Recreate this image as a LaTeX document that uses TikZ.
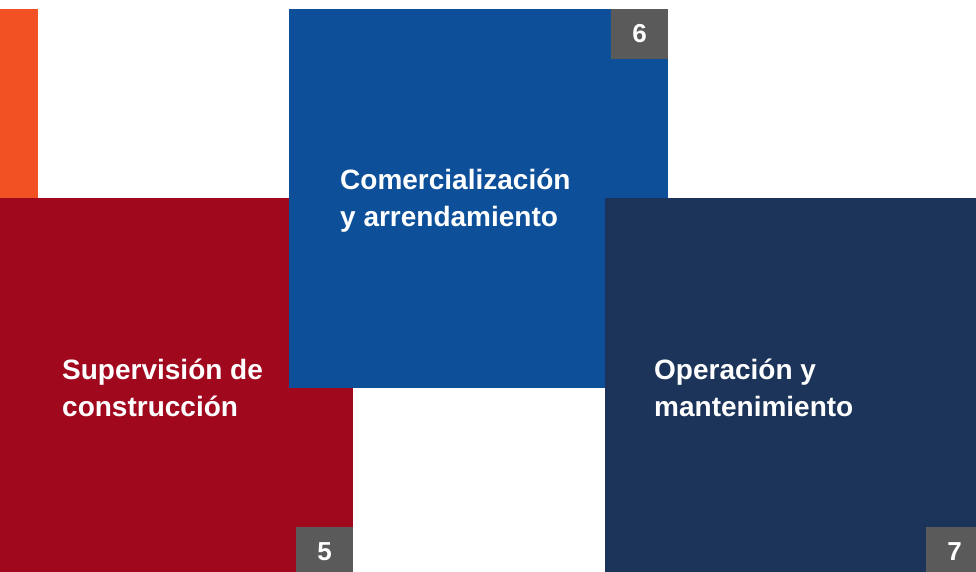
\documentclass[tikz,border=0pt]{standalone}
\usepackage{fontspec}
\setmainfont{Liberation Sans}
\usepackage{xcolor}
\usetikzlibrary{positioning}

\definecolor{naranja}{RGB}{241,81,35}
\definecolor{rojo}{RGB}{160,8,30}
\definecolor{azul}{RGB}{13,79,153}
\definecolor{marino}{RGB}{28,52,90}
\definecolor{gris}{RGB}{90,90,90}

\begin{document}
\begin{tikzpicture}[x=1pt, y=-1pt,
  bloque/.style={rectangle, inner sep=0pt, outer sep=0pt},
  etapa/.style={text=white, font=\fontsize{28}{37}\selectfont\bfseries, align=left, inner sep=0pt, anchor=base west},
  numero/.style={rectangle, fill=gris, text=white, minimum width=57pt, minimum height=50pt, inner sep=0pt, font=\fontsize{26}{26}\selectfont\bfseries}]
\useasboundingbox (0,0) rectangle (976,572);
\clip (0,0) rectangle (976,572);

\node[bloque, fill=naranja, minimum width=38pt, minimum height=189pt] (franja) at (19,103.5) {};
\node[bloque, fill=rojo, minimum width=353pt, minimum height=374pt] (supervision) at (176.5,385) {};
\node[bloque, fill=azul, minimum width=379pt, minimum height=379pt] (comercial) at (478.5,198.5) {};
\node[bloque, fill=marino, minimum width=371pt, minimum height=374pt] (operacion) at (790.5,385) {};

% base = baseline of the last line
\node[etapa] (tsupervision) at (62,416.5) {Supervisión de\\construcción};
\node[etapa] (tcomercial) at (340,226.5) {Comercialización\\y arrendamiento};
\node[etapa] (toperacion) at (654,416.5) {Operación y\\mantenimiento};

\node[numero] (n5) at (324.5,552) {5};
\node[numero] (n6) at (639.5,34) {6};
\node[numero] (n7) at (954.5,552) {7};
\end{tikzpicture}
\end{document}
